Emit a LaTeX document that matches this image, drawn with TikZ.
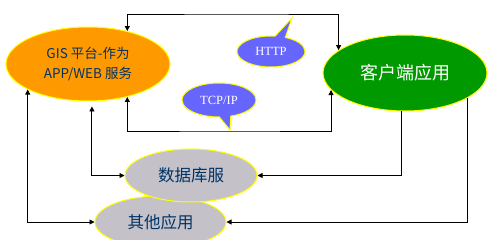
\documentclass[tikz,border=0pt]{standalone}
\usepackage{fontspec}
\setmainfont{Noto Sans CJK SC}
\newfontfamily\latinserif{Liberation Serif}
\usetikzlibrary{arrows.meta,shapes.geometric,shapes.callouts}
\definecolor{gisorange}{RGB}{255,153,0}
\definecolor{clientgreen}{RGB}{0,153,0}
\definecolor{bubbleblue}{RGB}{102,102,255}
\definecolor{servgray}{RGB}{196,194,200}
\definecolor{textnavy}{RGB}{0,51,102}
\definecolor{rimyellow}{RGB}{255,255,0}
\tikzset{
  blob/.style={ellipse,draw=rimyellow,line width=1pt,inner sep=0pt},
  bubble/.style={ellipse callout,draw=rimyellow,line width=1pt,fill=bubbleblue,
    text=white,inner sep=0pt,callout pointer arc=18,
    font=\latinserif\fontsize{12.5}{13}\selectfont},
  link/.style={draw=black,line width=0.9pt},
}
\begin{document}
\begin{tikzpicture}[x=1pt,y=-1pt,>={Triangle[length=5pt,width=5pt]}]
 \useasboundingbox (0,0) rectangle (493,248);
 \clip (0,0) rectangle (493,240);
 % main ellipses
 \node[blob,fill=gisorange,text=textnavy,minimum width=164pt,minimum height=74pt,
   align=center,font=\fontsize{13.5}{20}\selectfont] (gis) at (88,64)
   {GIS 平台-作为\\APP/WEB 服务};
 \node[blob,fill=clientgreen,text=white,minimum width=164pt,minimum height=76pt,
   font=\fontsize{18}{20}\selectfont] (client) at (405,73) {客户端应用};
 \node[blob,fill=servgray,text=textnavy,minimum width=131pt,minimum height=52pt,
   font=\fontsize{16.5}{18}\selectfont] (other) at (160.5,222) {其他应用};
 \node[blob,fill=servgray,text=textnavy,minimum width=132pt,minimum height=53pt,
   font=\fontsize{16.5}{18}\selectfont] (db) at (191,175.5) {数据库服};
 % connectors
 \coordinate (toprail) at (240,14);
 \coordinate (lowrail) at (230,131);
 \draw[link,<->] (gis.40) |- (toprail) -| (client.161);
 \draw[link,<->] (gis.-40) |- (lowrail) -| (client.193);
 \draw[link,<->,shorten <=5pt] (gis.-84) |- (db.west);
 \draw[link,<->] (gis.203.5) |- (other.west);
 \draw[link,->] (client.264) |- (db.east);
 \draw[link,->] (client.-22) |- (other.east);
 % protocol bubbles
 \coordinate (httptip) at (292,18);
 \coordinate (tcptip) at (230,130);
 \node[bubble,minimum width=68pt,minimum height=31pt,
   callout absolute pointer={(httptip)}] (http) at (271,51.5) {HTTP};
 \node[bubble,minimum width=74pt,minimum height=34pt,
   callout absolute pointer={(tcptip)}] (tcp) at (219,100) {TCP/IP};
\end{tikzpicture}
\end{document}
